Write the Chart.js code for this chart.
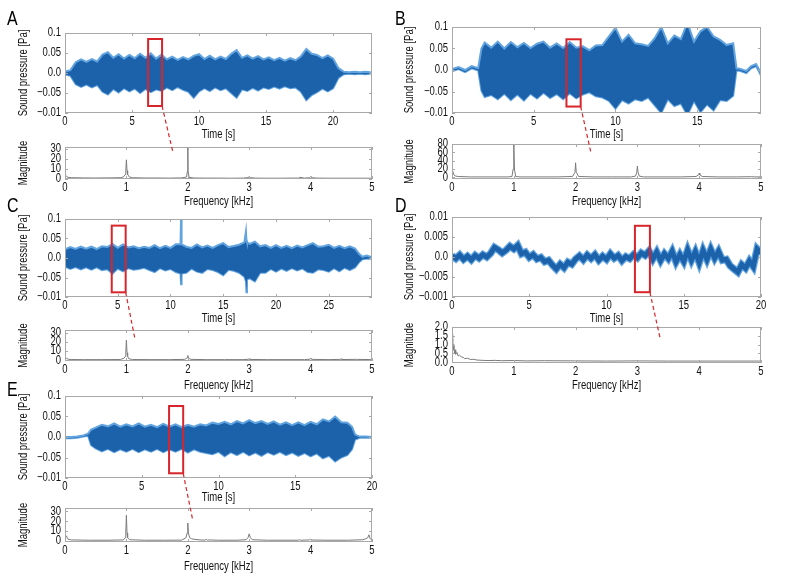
<!DOCTYPE html>
<html><head><meta charset="utf-8">
<script src="https://cdn.jsdelivr.net/npm/chart.js@4.4.1/dist/chart.umd.min.js"></script>
<style>
html,body{margin:0;padding:0;background:#fff;}
#wrap{position:relative;width:792px;height:588px;overflow:hidden;background:#fff;}
#wrap canvas{position:absolute;}
.lbl{position:absolute;font-family:"Liberation Sans",Arial,sans-serif;font-size:21px;line-height:21px;color:#000;transform:scaleX(0.76);transform-origin:0 0;}
</style></head><body><div id="wrap"></div>
<script>
// ---------------- DATA ----------------
// Panel A waveform envelope
const aTime = [0,0.4,0.8,1.2,1.6,2,2.4,2.8,3.2,3.6,4,4.4,4.8,5.2,5.6,6,6.4,6.8,7.2,7.6,8,8.4,8.8,9.2,9.6,10,10.4,10.8,11.2,11.6,12,12.4,12.8,13.2,13.6,14,14.4,14.8,15.2,15.6,16,16.4,16.8,17.2,17.6,18,18.4,18.8,19.2,19.6,20,20.4,20.8,21.2,21.6,22,22.4,22.8];
const aUpper = [0.004,0.007,0.027,0.034,0.028,0.035,0.029,0.046,0.052,0.038,0.047,0.036,0.045,0.037,0.048,0.038,0.049,0.036,0.046,0.034,0.041,0.033,0.040,0.034,0.043,0.047,0.035,0.043,0.034,0.041,0.035,0.048,0.057,0.038,0.044,0.036,0.042,0.034,0.039,0.032,0.038,0.031,0.037,0.032,0.042,0.060,0.048,0.045,0.037,0.044,0.036,0.012,0.003,0.002,0.003,0.002,0.003,0.002];
const aLower = [-0.004,-0.007,-0.028,-0.035,-0.029,-0.036,-0.030,-0.047,-0.054,-0.040,-0.049,-0.038,-0.046,-0.039,-0.050,-0.040,-0.048,-0.041,-0.045,-0.036,-0.043,-0.035,-0.042,-0.047,-0.062,-0.046,-0.038,-0.045,-0.036,-0.043,-0.038,-0.050,-0.062,-0.041,-0.045,-0.037,-0.044,-0.036,-0.040,-0.034,-0.039,-0.033,-0.038,-0.036,-0.047,-0.068,-0.055,-0.048,-0.039,-0.046,-0.038,-0.012,-0.003,-0.002,-0.003,-0.002,-0.003,-0.002];
const aTimeTicks = [0,5,10,15,20];
// Panel B waveform envelope
const bTime = [0,0.4,0.8,1.2,1.6,1.8,2,2.4,2.8,3.2,3.6,4,4.4,4.8,5.2,5.6,6,6.4,6.8,7.2,7.6,8,8.4,8.8,9.2,9.6,10,10.4,10.8,11.2,11.6,12,12.4,12.8,13.2,13.6,14,14.4,14.8,15.2,15.6,16,16.4,16.8,17.2,17.4,17.6,18,18.3,18.6,18.9];
const bUpper = [0.002,0.007,0.000,0.009,0.004,0.050,0.064,0.052,0.066,0.050,0.065,0.053,0.063,0.051,0.061,0.066,0.052,0.062,0.051,0.065,0.052,0.055,0.046,0.057,0.058,0.078,0.098,0.066,0.082,0.062,0.060,0.056,0.074,0.100,0.062,0.080,0.072,0.110,0.066,0.090,0.100,0.078,0.070,0.058,0.062,0.004,0.003,-0.002,0.009,0.014,-0.008];
const bLower = [-0.003,0.002,-0.005,0.004,-0.001,-0.048,-0.063,-0.058,-0.068,-0.055,-0.070,-0.057,-0.071,-0.055,-0.066,-0.053,-0.065,-0.056,-0.068,-0.054,-0.066,-0.057,-0.052,-0.061,-0.064,-0.072,-0.090,-0.070,-0.078,-0.068,-0.072,-0.064,-0.082,-0.100,-0.068,-0.084,-0.078,-0.105,-0.072,-0.098,-0.080,-0.094,-0.070,-0.072,-0.060,-0.001,-0.002,-0.007,0.004,0.009,-0.013];
const bTimeTicks = [0,5,10,15];
// Panel C waveform envelope
const cTime = [0,0.5,1,1.5,2,2.5,3,3.5,4,4.5,5,5.5,6,6.5,7,7.5,8,8.5,9,9.5,10,10.5,10.95,11,11.05,11.5,12,12.5,13,13.5,14,14.5,15,15.5,16,16.5,17,17.15,17.2,17.25,17.5,18,18.5,19,19.5,20,20.5,21,21.5,22,22.5,23,23.5,24,24.5,25,25.5,26,26.5,27,27.5,27.9,28.2,28.6,29.1];
const cUpper = [0.022,0.028,0.023,0.029,0.024,0.029,0.023,0.030,0.028,0.036,0.026,0.035,0.027,0.030,0.025,0.029,0.026,0.033,0.025,0.031,0.026,0.035,0.035,0.100,0.035,0.029,0.026,0.035,0.027,0.032,0.026,0.033,0.038,0.028,0.031,0.034,0.040,0.068,0.045,0.040,0.036,0.042,0.030,0.033,0.026,0.033,0.026,0.031,0.025,0.032,0.027,0.033,0.038,0.029,0.030,0.034,0.026,0.031,0.025,0.030,0.024,0.010,0.003,0.006,0.002];
const cLower = [-0.022,-0.028,-0.023,-0.029,-0.024,-0.030,-0.024,-0.031,-0.029,-0.040,-0.027,-0.034,-0.026,-0.030,-0.028,-0.025,-0.031,-0.036,-0.026,-0.032,-0.028,-0.036,-0.040,-0.067,-0.040,-0.038,-0.027,-0.035,-0.038,-0.028,-0.031,-0.036,-0.044,-0.030,-0.033,-0.038,-0.048,-0.060,-0.088,-0.055,-0.052,-0.060,-0.038,-0.038,-0.028,-0.035,-0.027,-0.033,-0.026,-0.032,-0.027,-0.036,-0.038,-0.029,-0.031,-0.035,-0.026,-0.034,-0.025,-0.031,-0.024,-0.010,-0.003,-0.002,-0.002];
const cTimeTicks = [0,5,10,15,20,25];
// Panel D waveform trace
const dTime = [0,0.25,0.5,0.75,1,1.25,1.5,1.75,2,2.25,2.5,2.75,3,3.25,3.5,3.75,4,4.25,4.5,4.75,5,5.25,5.5,5.75,6,6.25,6.5,6.75,7,7.25,7.5,7.75,8,8.25,8.5,8.75,9,9.25,9.5,9.75,10,10.25,10.5,10.75,11,11.25,11.5,11.75,12,12.25,12.5,12.75,13,13.25,13.5,13.75,14,14.25,14.5,14.75,15,15.25,15.5,15.75,16,16.25,16.5,16.75,17,17.25,17.5,17.75,18,18.25,18.5,18.75,19,19.25,19.5,19.75,20];
const dValues = [0.0003,-0.0004,0.0005,-0.0006,0.0002,-0.0007,0.0004,-0.0003,0.0006,0.0000,0.0009,0.0024,0.0018,0.0010,0.0017,0.0027,0.0020,0.0029,0.0008,0.0012,-0.0001,0.0006,-0.0005,-0.0001,-0.0012,-0.0008,-0.0020,-0.0030,-0.0018,-0.0027,-0.0013,-0.0018,-0.0005,0.0003,-0.0007,0.0005,-0.0004,0.0006,-0.0008,0.0002,-0.0006,0.0008,-0.0003,0.0004,-0.0009,0.0001,-0.0004,0.0006,-0.0002,0.0010,0.0004,0.0015,-0.0005,0.0012,-0.0009,0.0008,-0.0004,0.0014,-0.0012,0.0006,-0.0011,0.0017,-0.0008,0.0013,-0.0014,0.0016,-0.0006,0.0019,-0.0003,0.0014,-0.0008,-0.0006,-0.0022,-0.0030,-0.0038,-0.0019,-0.0028,-0.0010,-0.0024,0.0020,0.0010];
const dTimeTicks = [0,5,10,15,20];
// Panel E waveform envelope
const eTime = [0,0.4,0.8,1.2,1.5,1.7,2,2.4,2.8,3.2,3.6,4,4.4,4.8,5.2,5.6,6,6.4,6.8,7.2,7.6,8,8.4,8.8,9.2,9.6,10,10.4,10.8,11.2,11.6,12,12.4,12.8,13.2,13.6,14,14.4,14.8,15.2,15.6,16,16.4,16.8,17.2,17.6,18,18.4,18.7,18.9,19.2,19.6,20];
const eUpper = [0.000,0.000,0.001,0.004,0.008,0.018,0.023,0.030,0.026,0.033,0.025,0.031,0.026,0.033,0.025,0.030,0.024,0.032,0.025,0.031,0.024,0.030,0.025,0.031,0.028,0.035,0.032,0.037,0.031,0.039,0.033,0.041,0.034,0.039,0.032,0.038,0.030,0.036,0.029,0.036,0.029,0.037,0.031,0.043,0.038,0.050,0.036,0.035,0.025,0.006,0.001,0.001,0.000];
const eLower = [-0.003,-0.003,-0.002,0.001,0.003,-0.020,-0.028,-0.035,-0.029,-0.037,-0.030,-0.036,-0.029,-0.037,-0.030,-0.036,-0.029,-0.037,-0.030,-0.036,-0.029,-0.038,-0.030,-0.036,-0.039,-0.042,-0.036,-0.047,-0.037,-0.044,-0.036,-0.045,-0.038,-0.046,-0.037,-0.043,-0.036,-0.044,-0.038,-0.046,-0.039,-0.047,-0.040,-0.052,-0.046,-0.060,-0.050,-0.044,-0.030,-0.006,-0.002,-0.002,-0.002];
const eTimeTicks = [0,5,10,15,20];

// Sound pressure tick values / labels (as printed in the figure)
const pressureTicks = [-0.1,-0.05,0,0.05,0.1];
const pressureTickLabels = ['\u22120.01','\u22120.05','0.0','0.05','0.1'];
const dPressureTicks = [-0.01,-0.005,0,0.005,0.01];
const dPressureTickLabels = ['\u22120.001','\u22120.005','0.0','0.005','0.01'];

// Spectra
const freqTicks = [0,1,2,3,4,5];
const aFreq = [0,0.02,0.05,0.1,0.3,0.5,0.7,0.9,0.95,0.98,0.99,1.0,1.01,1.02,1.05,1.1,1.3,1.5,1.7,1.9,1.98,1.995,2.0,2.005,2.02,2.1,2.3,2.5,2.7,2.9,2.98,3.0,3.02,3.1,3.3,3.5,3.7,3.8,3.82,3.9,3.98,4.0,4.02,4.1,4.3,4.5,4.7,4.9,5.0];
const aMag = [1.5,2.5,1.2,0.8,0.6,0.5,0.6,0.8,1.5,4,8,19,8,4,1.5,0.8,0.5,0.5,0.4,0.6,1.5,8,31,8,1.2,0.5,0.4,0.4,0.3,0.4,0.9,1.8,0.9,0.4,0.3,0.3,0.4,0.4,1.2,0.4,0.8,1.6,0.8,0.4,0.3,0.3,0.3,0.3,0.3];
const aMagTicks = [0,10,20,30];
const bFreq = [0,0.01,0.03,0.06,0.1,0.3,0.6,0.9,0.97,0.99,1.0,1.01,1.03,1.1,1.4,1.7,1.95,1.99,2.0,2.01,2.05,2.3,2.6,2.9,2.97,2.99,3.0,3.01,3.03,3.1,3.4,3.7,3.95,3.99,4.0,4.01,4.05,4.3,4.6,4.85,4.9,5.0];
const bMag = [8,15,6,3,2,1,1,1,2,20,82,20,2,1,1,1,2,12,35,12,2,1,1,1,3,12,27,12,3,1,1,1,2,6,10,6,2,1,1,1.5,1,1];
const bMagTicks = [0,20,40,60,80];
const cFreq = [0,0.02,0.05,0.1,0.3,0.6,0.9,0.96,0.98,0.99,1.0,1.01,1.02,1.04,1.1,1.4,1.7,1.95,1.99,2.0,2.01,2.05,2.3,2.6,2.9,2.99,3.0,3.01,3.3,3.6,3.9,3.99,4.0,4.01,4.3,4.49,4.5,4.51,4.75,5.0];
const cMag = [1,2,1,0.6,0.5,0.5,0.6,2,4,8,22,8,4,1.5,0.6,0.5,0.5,0.8,2.5,5,2,0.8,0.5,0.5,0.5,0.9,1.5,0.7,0.5,0.5,0.5,1,2,0.8,0.5,0.8,1.5,0.6,0.8,0.5];
const cMagTicks = [0,10,20,30];
const dFreq = [0,0.01,0.02,0.03,0.04,0.05,0.06,0.08,0.1,0.12,0.15,0.18,0.2,0.25,0.3,0.35,0.4,0.5,0.6,0.7,0.8,1.0,1.2,1.5,2.0,2.5,3.0,3.5,4.0,4.5,5.0];
const dMag = [1.2,1.6,0.7,1.0,0.5,0.7,0.45,0.55,0.35,0.4,0.3,0.28,0.2,0.22,0.15,0.16,0.12,0.1,0.09,0.1,0.08,0.09,0.07,0.08,0.07,0.06,0.07,0.06,0.06,0.06,0.06];
const dMagTicks = [0,0.5,1,1.5,2];
const dMagTickLabels = ['0.0','0.5','1.0','1.5','2.0'];
const eFreq = [0,0.02,0.05,0.1,0.4,0.7,0.95,0.98,0.99,1.0,1.01,1.02,1.05,1.3,1.6,1.9,1.97,1.99,2.0,2.01,2.03,2.06,2.1,2.2,2.28,2.3,2.32,2.35,2.5,2.8,2.95,2.98,3.0,3.02,3.05,3.3,3.6,3.8,3.82,3.84,3.98,4.0,4.02,4.3,4.6,4.85,4.9,4.93,4.95,4.97,5.0];
const eMag = [3,5,1.5,0.8,0.5,0.5,0.8,3,8,26,8,3,1,0.5,0.5,0.6,3,8,18,8,3,2,1.5,0.8,0.6,1.5,0.6,0.8,0.5,0.5,1,3,7,3,1,0.5,0.5,0.5,1,0.5,0.8,1.5,0.7,0.5,0.5,1,2,3,6,2,1];
const eMagTicks = [0,10,20,30];

// Highlighted windows [t0, t1, pTop, pBottom] and link targets [kHz, magnitude]
const aWindow = [6.2, 7.24, 0.085, -0.0825];
const bWindow = [7.0, 7.87, 0.0714, -0.085];
const cWindow = [4.43, 5.75, 0.083, -0.088];
const dWindow = [11.84, 12.81, 0.0078, -0.0088];
const eWindow = [6.78, 7.7, 0.0756, -0.0885];
const aLink = [1.76, 26];
const bLink = [2.25, 58];
const cLink = [1.14, 23];
const dLink = [3.37, 1.32];
const eLink = [2.08, 21];

// ---------------- RENDER ----------------
const FONT = '"Liberation Sans", Arial, sans-serif';
const SX = 0.76;             // horizontal condensing of all text
const DARK = '#1c62ab';
const LIGHT = '#62a4e0';
const GRAYLINE = '#7a7a7a';
const FRAME = '#a8a8a8';
const RED = '#d8252b';
const TXT = '#111';
const wrap = document.getElementById('wrap');

function drawText(ctx, text, x, y, align, rotate) {
  ctx.save();
  ctx.translate(x, y);
  if (rotate) ctx.rotate(-Math.PI / 2);
  ctx.scale(SX, 1);
  ctx.font = '12.5px ' + FONT;
  ctx.fillStyle = TXT;
  ctx.textAlign = align;
  ctx.textBaseline = 'middle';
  ctx.fillText(text, 0, 0);
  ctx.restore();
}

const framePlugin = {
  id: 'frame',
  afterDraw(chart, args, opts) {
    const {ctx, chartArea: {left, right, top, bottom}} = chart;
    const xs = chart.scales.x, ys = chart.scales.y;
    ctx.save();
    ctx.strokeStyle = FRAME; ctx.lineWidth = 1;
    ctx.beginPath();
    xs.ticks.forEach(t => {
      const px = Math.round(xs.getPixelForValue(t.value)) + 0.5;
      ctx.moveTo(px, bottom); ctx.lineTo(px, bottom - 3);
      ctx.moveTo(px, top); ctx.lineTo(px, top + 3);
    });
    ys.ticks.forEach(t => {
      const py = Math.round(ys.getPixelForValue(t.value)) + 0.5;
      ctx.moveTo(left, py); ctx.lineTo(left + 3, py);
      ctx.moveTo(right, py); ctx.lineTo(right - 3, py);
    });
    ctx.stroke();
    ctx.strokeRect(Math.round(left) + 0.5, Math.round(top) + 0.5, Math.round(right - left) - 1, Math.round(bottom - top) - 1);
    if (opts.win) {
      const w = opts.win;
      const x0 = xs.getPixelForValue(w[0]), x1 = xs.getPixelForValue(w[1]);
      const y0 = ys.getPixelForValue(w[2]), y1 = ys.getPixelForValue(w[3]);
      ctx.strokeStyle = RED; ctx.lineWidth = 2;
      ctx.strokeRect(x0, y0, x1 - x0, y1 - y0);
    }
    ctx.restore();
    // tick labels and axis titles (condensed text)
    xs.ticks.forEach((t, i) => drawText(ctx, opts.xLabels[i], xs.getPixelForValue(t.value), bottom + 8.5, 'center', false));
    ys.ticks.forEach((t, i) => drawText(ctx, opts.yLabels[i], left - 4, ys.getPixelForValue(t.value), 'right', false));
    drawText(ctx, opts.xTitle, (left + right) / 2, chart.height - 7.5, 'center', false);
    drawText(ctx, opts.yTitle, opts.yTitleX, (top + bottom) / 2, 'center', true);
  }
};

function pts(xs, ys) { const n = Math.min(xs.length, ys.length); const out = []; for (let i = 0; i < n; i++) out.push({x: xs[i], y: ys[i]}); return out; }

function makeChart(c) {
  const canvas = document.createElement('canvas');
  const left = c.plot[0] - c.yW, top = c.plot[1] - c.padTop;
  const w = c.plot[2] - left + c.padRight, h = c.plot[3] - top + c.xH;
  canvas.style.left = left + 'px'; canvas.style.top = top + 'px';
  canvas.width = w; canvas.height = h;
  canvas.style.width = w + 'px'; canvas.style.height = h + 'px';
  wrap.appendChild(canvas);
  const chart = new Chart(canvas, {
    type: 'line',
    data: {datasets: c.datasets},
    options: {
      responsive: false, animation: false, devicePixelRatio: 1,
      layout: {padding: {top: c.padTop, right: c.padRight, left: 0, bottom: 0}},
      plugins: {
        legend: {display: false}, tooltip: {enabled: false},
        frame: {win: c.win || null,
                xLabels: c.xLabels || c.xTicks.map(String), yLabels: c.yLabels || c.yTicks.map(String),
                xTitle: c.xTitle, yTitle: c.yTitle, yTitleX: c.yTitleX}
      },
      scales: {
        x: {
          type: 'linear', min: c.xMin, max: c.xMax,
          afterBuildTicks: s => { s.ticks = c.xTicks.map(v => ({value: v})); },
          afterFit: s => { s.height = c.xH; },
          grid: {display: false, drawTicks: false}, border: {display: false},
          ticks: {display: false}, title: {display: false}
        },
        y: {
          type: 'linear', min: c.yMin, max: c.yMax,
          afterBuildTicks: s => { s.ticks = c.yTicks.map(v => ({value: v})); },
          afterFit: s => { s.width = c.yW; },
          grid: {display: false, drawTicks: false}, border: {display: false},
          ticks: {display: false}, title: {display: false}
        }
      }
    },
    plugins: [framePlugin]
  });
  chart._offset = [left, top];
  return chart;
}

function envelopeSets(t, up, lo) {
  return [
    {data: pts(t, up), borderColor: LIGHT, borderWidth: 2, backgroundColor: DARK, fill: '+1', pointRadius: 0, tension: 0, borderJoinStyle: 'miter'},
    {data: pts(t, lo), borderColor: LIGHT, borderWidth: 2, fill: false, pointRadius: 0, tension: 0, borderJoinStyle: 'miter'}
  ];
}
function spectrumSet(f, m) {
  return [{data: pts(f, m), borderColor: GRAYLINE, borderWidth: 1, fill: false, pointRadius: 0, tension: 0}];
}

const L = {yW: 65, yTitleX: 24}, R = {yW: 60, yTitleX: 18};

const waveA = makeChart({plot: [65, 33, 372, 113], yW: L.yW, yTitleX: L.yTitleX, padTop: 13, padRight: 10, xH: 29,
  xMin: 0, xMax: 22.9, xTicks: aTimeTicks, yMin: -0.1, yMax: 0.1, yTicks: pressureTicks, yLabels: pressureTickLabels,
  xTitle: 'Time [s]', yTitle: 'Sound pressure [Pa]', datasets: envelopeSets(aTime, aUpper, aLower), win: aWindow});
const specA = makeChart({plot: [65, 147, 372, 179], yW: L.yW, yTitleX: L.yTitleX, padTop: 8, padRight: 10, xH: 30,
  xMin: 0, xMax: 5, xTicks: freqTicks, yMin: -0.5, yMax: 32, yTicks: aMagTicks,
  xTitle: 'Frequency [kHz]', yTitle: 'Magnitude', datasets: spectrumSet(aFreq, aMag)});

const waveB = makeChart({plot: [452, 27, 761, 113], yW: R.yW, yTitleX: R.yTitleX, padTop: 9, padRight: 10, xH: 29,
  xMin: 0, xMax: 18.9, xTicks: bTimeTicks, yMin: -0.1, yMax: 0.1, yTicks: pressureTicks, yLabels: pressureTickLabels,
  xTitle: 'Time [s]', yTitle: 'Sound pressure [Pa]', datasets: envelopeSets(bTime, bUpper, bLower), win: bWindow});
const specB = makeChart({plot: [452, 144, 761, 179], yW: R.yW, yTitleX: R.yTitleX, padTop: 8, padRight: 10, xH: 30,
  xMin: 0, xMax: 5, xTicks: freqTicks, yMin: -4, yMax: 80, yTicks: bMagTicks,
  xTitle: 'Frequency [kHz]', yTitle: 'Magnitude', datasets: spectrumSet(bFreq, bMag)});

const waveC = makeChart({plot: [65, 219, 372, 297], yW: L.yW, yTitleX: L.yTitleX, padTop: 10, padRight: 10, xH: 29,
  xMin: 0, xMax: 29.1, xTicks: cTimeTicks, yMin: -0.1, yMax: 0.1, yTicks: pressureTicks, yLabels: pressureTickLabels,
  xTitle: 'Time [s]', yTitle: 'Sound pressure [Pa]', datasets: envelopeSets(cTime, cUpper, cLower), win: cWindow});
const specC = makeChart({plot: [65, 330, 372, 361], yW: L.yW, yTitleX: L.yTitleX, padTop: 8, padRight: 10, xH: 32,
  xMin: 0, xMax: 5, xTicks: freqTicks, yMin: -1, yMax: 33, yTicks: cMagTicks,
  xTitle: 'Frequency [kHz]', yTitle: 'Magnitude', datasets: spectrumSet(cFreq, cMag)});

const waveD = makeChart({plot: [452, 217, 761, 297], yW: R.yW, yTitleX: R.yTitleX, padTop: 10, padRight: 10, xH: 29,
  xMin: 0, xMax: 20, xTicks: dTimeTicks, yMin: -0.01, yMax: 0.01, yTicks: dPressureTicks, yLabels: dPressureTickLabels,
  xTitle: 'Time [s]', yTitle: 'Sound pressure [Pa]', win: dWindow,
  datasets: [
    {data: pts(dTime, dValues), borderColor: DARK, borderWidth: 5, fill: false, pointRadius: 0, tension: 0},
    {data: pts(dTime, dValues), borderColor: LIGHT, borderWidth: 7.5, fill: false, pointRadius: 0, tension: 0}
  ]});
const specD = makeChart({plot: [452, 327, 761, 363], yW: R.yW, yTitleX: R.yTitleX, padTop: 8, padRight: 10, xH: 30,
  xMin: 0, xMax: 5, xTicks: freqTicks, yMin: -0.05, yMax: 2, yTicks: dMagTicks, yLabels: dMagTickLabels,
  xTitle: 'Frequency [kHz]', yTitle: 'Magnitude', datasets: spectrumSet(dFreq, dMag)});

const waveE = makeChart({plot: [65, 396, 372, 478], yW: L.yW, yTitleX: L.yTitleX, padTop: 10, padRight: 10, xH: 27,
  xMin: 0, xMax: 20, xTicks: eTimeTicks, yMin: -0.1, yMax: 0.1, yTicks: pressureTicks, yLabels: pressureTickLabels,
  xTitle: 'Time [s]', yTitle: 'Sound pressure [Pa]', datasets: envelopeSets(eTime, eUpper, eLower), win: eWindow});
const specE = makeChart({plot: [65, 508, 372, 542], yW: L.yW, yTitleX: L.yTitleX, padTop: 8, padRight: 10, xH: 32,
  xMin: 0, xMax: 5, xTicks: freqTicks, yMin: -1.3, yMax: 33.3, yTicks: eMagTicks,
  xTitle: 'Frequency [kHz]', yTitle: 'Magnitude', datasets: spectrumSet(eFreq, eMag)});

// Dashed connectors
const ov = document.createElement('canvas');
ov.width = 792; ov.height = 588; ov.style.left = '0px'; ov.style.top = '0px';
ov.style.width = '792px'; ov.style.height = '588px';
wrap.appendChild(ov);
const octx = ov.getContext('2d');
function link(wave, win, spec, tgt) {
  const sx = wave._offset[0] + wave.scales.x.getPixelForValue(win[1]);
  const sy = wave._offset[1] + wave.scales.y.getPixelForValue(win[3]);
  const ex = spec._offset[0] + spec.scales.x.getPixelForValue(tgt[0]);
  const ey = spec._offset[1] + spec.scales.y.getPixelForValue(tgt[1]);
  octx.save(); octx.strokeStyle = RED; octx.lineWidth = 1.2; octx.setLineDash([4, 3]);
  octx.beginPath(); octx.moveTo(sx, sy); octx.lineTo(ex, ey); octx.stroke(); octx.restore();
}
link(waveA, aWindow, specA, aLink);
link(waveB, bWindow, specB, bLink);
link(waveC, cWindow, specC, cLink);
link(waveD, dWindow, specD, dLink);
link(waveE, eWindow, specE, eLink);

// Panel letters
[['A', 7, 7], ['B', 395, 7], ['C', 7, 194], ['D', 395, 194], ['E', 7, 378]].forEach(([t, x, y]) => {
  const d = document.createElement('div'); d.className = 'lbl'; d.textContent = t;
  d.style.left = x + 'px'; d.style.top = y + 'px'; wrap.appendChild(d);
});
</script></body></html>
